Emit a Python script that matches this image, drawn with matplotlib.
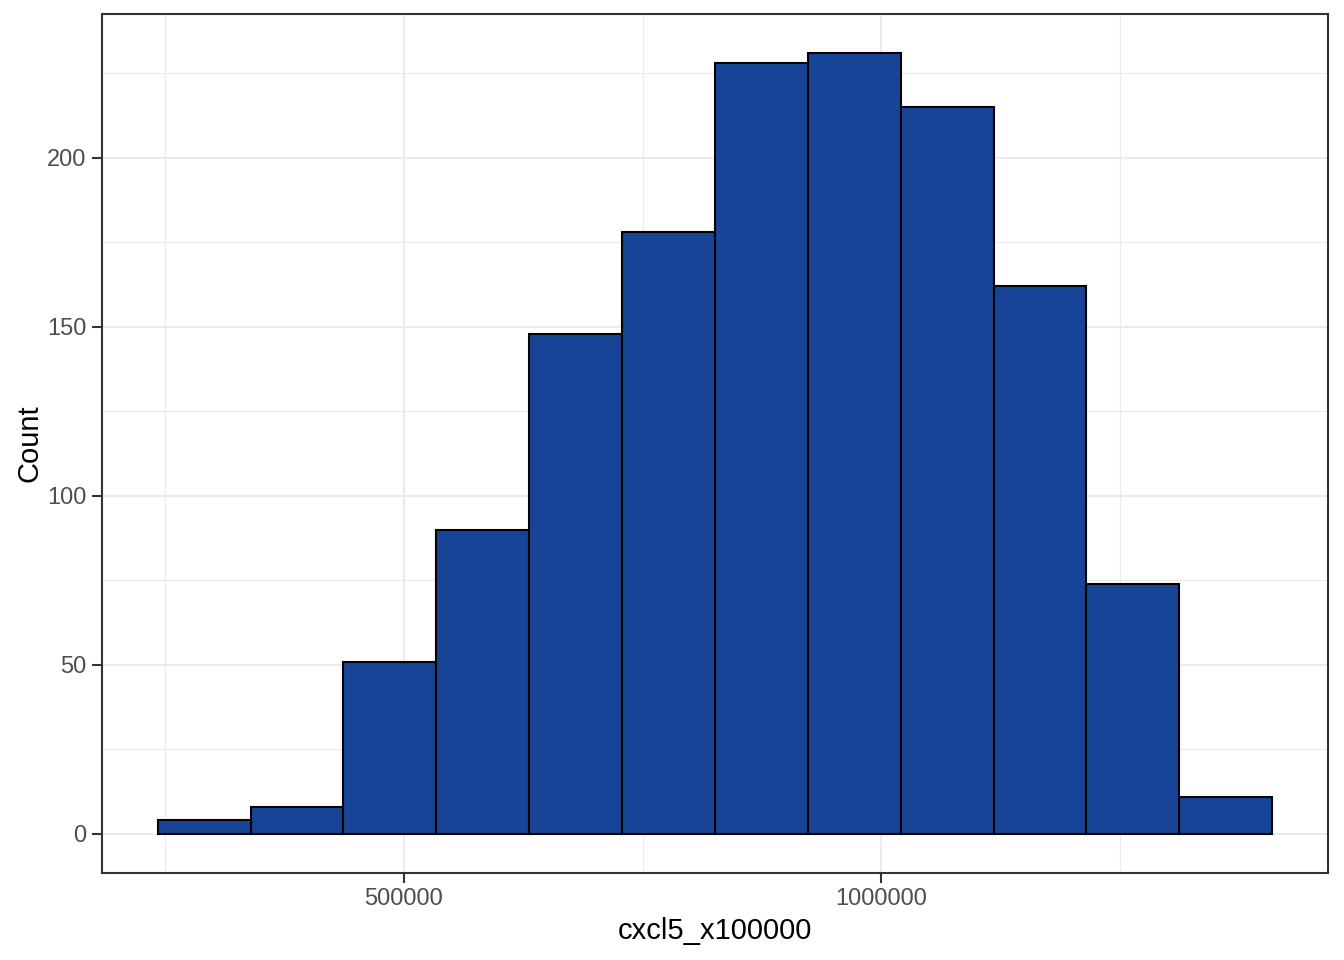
import matplotlib
matplotlib.use("Agg")
import matplotlib.pyplot as plt
from matplotlib.ticker import MultipleLocator

# histogram bins
bin_left = [242263, 339529, 436795, 534061, 631327, 728593,
            825859, 923125, 1020391, 1117657, 1214923, 1312189]
bin_width = 97266
counts = [4, 8, 51, 90, 148, 178, 228, 231, 215, 162, 74, 11]

x_ticks = [500000, 1000000]
y_ticks = [0, 50, 100, 150, 200]

plt.rcParams['font.family'] = ['Liberation Sans', 'DejaVu Sans']

fig, ax = plt.subplots(figsize=(13.44, 9.6), dpi=100)
fig.subplots_adjust(left=0.0759, right=0.988, top=0.9854, bottom=0.0906)

ax.bar(bin_left, counts, width=bin_width, align='edge',
       color='#174497', edgecolor='black', linewidth=1.5, zorder=3)

lo = bin_left[0]
hi = bin_left[-1] + bin_width
pad = (hi - lo) * 0.05
ax.set_xlim(lo - pad, hi + pad)
ymax = max(counts)
ax.set_ylim(-ymax * 0.05, ymax * 1.05)

ax.set_xticks(x_ticks)
ax.set_xticklabels([str(t) for t in x_ticks])
ax.set_yticks(y_ticks)
ax.xaxis.set_minor_locator(MultipleLocator(250000))
ax.yaxis.set_minor_locator(MultipleLocator(25))

ax.grid(which='major', color='#EBEBEB', linewidth=1.5, zorder=0)
ax.grid(which='minor', color='#EBEBEB', linewidth=0.8, zorder=0)
ax.set_axisbelow(True)

for s in ax.spines.values():
    s.set_color('#333333')
    s.set_linewidth(1.5)

ax.tick_params(which='major', length=7, width=1.5, color='#333333',
               labelsize=17, labelcolor='#4D4D4D', pad=4)
ax.tick_params(which='minor', length=0)

ax.set_xlabel('cxcl5_x100000', fontsize=21, labelpad=5)
ax.set_ylabel('Count', fontsize=21, labelpad=3)

fig.savefig('out.png', dpi=100, facecolor='white')
